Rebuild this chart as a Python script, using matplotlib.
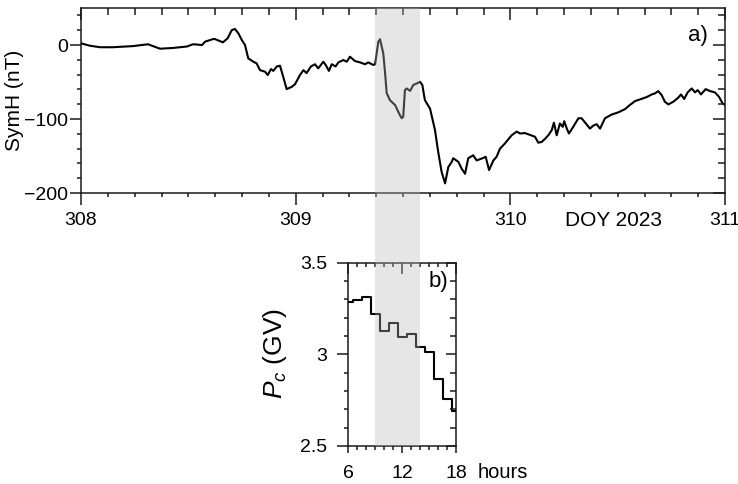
import matplotlib
matplotlib.use('Agg')
import matplotlib.pyplot as plt
from matplotlib.ticker import MultipleLocator, FixedLocator, FuncFormatter
from matplotlib.patches import Rectangle

plt.rcParams['font.family'] = ['Liberation Sans', 'DejaVu Sans']
plt.rcParams['mathtext.fontset'] = 'custom'
plt.rcParams['mathtext.it'] = 'Liberation Sans:italic'
plt.rcParams['mathtext.rm'] = 'Liberation Sans'

# ---- data: panel a) SymH vs DOY 2023 ----
doy = [308.003, 308.042, 308.089, 308.149, 308.242, 308.312, 308.368, 308.429, 308.494, 308.522,
       308.564, 308.578, 308.615, 308.624, 308.661, 308.683, 308.702, 308.717, 308.733, 308.749,
       308.764, 308.779, 308.803, 308.818, 308.834, 308.857, 308.870, 308.885, 308.896, 308.912,
       308.927, 308.942, 308.958, 308.982, 308.997, 309.020, 309.036, 309.051, 309.071, 309.090,
       309.105, 309.129, 309.140, 309.155, 309.168, 309.186, 309.199, 309.222, 309.238, 309.253,
       309.276, 309.300, 309.323, 309.338, 309.362, 309.370, 309.385, 309.393, 309.401, 309.408,
       309.416, 309.424, 309.439, 309.455, 309.463, 309.471, 309.486, 309.494, 309.501, 309.509,
       309.517, 309.533, 309.548, 309.564, 309.579, 309.590, 309.602, 309.626, 309.649, 309.664,
       309.680, 309.696, 309.711, 309.727, 309.734, 309.758, 309.773, 309.789, 309.804, 309.827,
       309.843, 309.874, 309.885, 309.901, 309.921, 309.936, 309.952, 309.975, 310.006, 310.030,
       310.045, 310.068, 310.115, 310.130, 310.146, 310.161, 310.177, 310.193, 310.203, 310.216,
       310.231, 310.244, 310.251, 310.263, 310.273, 310.293, 310.317, 310.332, 310.348, 310.371,
       310.386, 310.402, 310.418, 310.441, 310.472, 310.503, 310.534, 310.557, 310.581, 310.604,
       310.635, 310.659, 310.674, 310.689, 310.705, 310.720, 310.736, 310.759, 310.782, 310.795,
       310.810, 310.826, 310.845, 310.860, 310.873, 310.888, 310.910, 310.930, 310.953, 310.972,
       310.989, 311.000]
symh = [2, -1, -3, -3, -1.5, 1, -5, -4, -2, 1,
        0, 4.5, 8, 8, 3.6, 9, 20, 21.7, 15.8, 6.8,
        0, -18, -22.6, -24.8, -34, -36, -40.6, -32.5, -35, -29,
        -28, -43, -59.6, -56.5, -53, -40.6, -34, -38, -29, -26,
        -31.6, -22.6, -27, -35, -26, -29, -23.5, -20.3, -22.6, -15.8,
        -21.7, -23.5, -26, -23.5, -27, -26, 4.5, 7.7, -2, -11,
        -36, -65, -74.5, -79, -81, -86, -95, -99, -97, -61,
        -58.7, -62, -54, -52, -49.7, -54, -74.5, -86, -115, -144.5,
        -171.6, -187, -165, -158, -153, -158, -167, -174, -153, -149,
        -156, -152.6, -151, -169, -156, -151, -140, -133, -122, -117,
        -119.6, -119, -124, -132, -131, -127, -122, -115, -105, -122,
        -106, -110.6, -103, -113, -119.6, -110.6, -99, -99, -104.7, -113,
        -109, -107, -113, -99, -94, -91, -86.7, -81, -75.8, -73.5,
        -70.4, -66.8, -65.4, -62.3, -67.7, -76.7, -80.3, -76.7, -71.3, -66.8,
        -73, -64, -58.7, -64, -61, -66.8, -59.6, -62.3, -64, -70,
        -79, -81]

# ---- data: panel b) cutoff rigidity vs hours (DOY 309) ----
hours = [6, 7, 8, 9, 10, 11, 12, 13, 14, 15, 16, 17, 18]
pc = [3.284, 3.296, 3.311, 3.218, 3.127, 3.169, 3.093, 3.111, 3.038, 3.011, 2.865, 2.756, 2.693]

# shaded interval (hours of DOY 309)
shade_hours = [9, 14]

W, H = 738, 484
fig = plt.figure(figsize=(W / 100, H / 100), dpi=100)

ax1 = fig.add_axes([81 / W, 1 - 193 / H, 644 / W, 185 / H])
ax2 = fig.add_axes([348 / W, 1 - 446 / H, 108 / W, 183.3 / H])

ink = '#1a1a1a'

def int_fmt(v, p):
    return ('%d' % round(v)).replace('-', '\u2212')

# panel a
ax1.plot(doy, symh, color='black', lw=1.5, zorder=3)
ax1.set_xlim(308, 311)
ax1.set_ylim(-200, 50)
ax1.xaxis.set_major_locator(MultipleLocator(1))
ax1.xaxis.set_minor_locator(MultipleLocator(0.125))
ax1.yaxis.set_major_locator(FixedLocator([-200, -100, 0]))
ax1.yaxis.set_minor_locator(MultipleLocator(20))
ax1.xaxis.set_major_formatter(FuncFormatter(int_fmt))
ax1.yaxis.set_major_formatter(FuncFormatter(int_fmt))

# panel b
ax2.step(hours, pc, where='mid', color='black', lw=1.5, zorder=3)
ax2.set_xlim(6, 18)
ax2.set_ylim(2.5, 3.5)
ax2.xaxis.set_major_locator(MultipleLocator(6))
ax2.xaxis.set_minor_locator(MultipleLocator(1))
ax2.yaxis.set_major_locator(MultipleLocator(0.5))
ax2.yaxis.set_minor_locator(MultipleLocator(0.1))
ax2.xaxis.set_major_formatter(FuncFormatter(lambda v, p: '%g' % round(v, 2)))
ax2.yaxis.set_major_formatter(FuncFormatter(lambda v, p: '%g' % round(v, 2)))

for ax in (ax1, ax2):
    for s in ax.spines.values():
        s.set_linewidth(1.1)
        s.set_color(ink)

# outward ticks on left / bottom
ax1.tick_params(axis='y', which='major', direction='out', length=8, width=1.1, color=ink,
                labelsize=14, pad=1.5, top=False, right=False)
ax1.tick_params(axis='y', which='minor', direction='out', length=3, width=1.1, color=ink,
                right=False)
ax1.tick_params(axis='x', which='major', direction='out', length=8.5, width=1.1, color=ink,
                labelsize=14, pad=5, top=False)
ax1.tick_params(axis='x', which='minor', direction='out', length=3, width=1.1, color=ink,
                top=False)

ax2.tick_params(axis='y', which='major', direction='out', length=8, width=1.1, color=ink,
                labelsize=14, pad=7, right=False)
ax2.tick_params(axis='y', which='minor', direction='out', length=3, width=1.1, color=ink,
                right=False)
ax2.tick_params(axis='x', which='major', direction='out', length=5, width=1.1, color=ink,
                labelsize=14, pad=8.5, top=False)
ax2.tick_params(axis='x', which='minor', direction='out', length=3.2, width=1.1, color=ink,
                top=False)

# inward ticks on top / right via overlay axes
def inner_ticks(ax, maj_top, min_top, maj_right, min_right):
    ov = fig.add_axes(ax.get_position(), sharex=ax, sharey=ax, frameon=False)
    ov.tick_params(axis='both', which='both', direction='in', width=1.1, color=ink,
                   left=False, bottom=False, top=True, right=True,
                   labelleft=False, labelbottom=False, labeltop=False, labelright=False)
    ov.tick_params(axis='x', which='major', length=maj_top)
    ov.tick_params(axis='x', which='minor', length=min_top)
    ov.tick_params(axis='y', which='major', length=maj_right)
    ov.tick_params(axis='y', which='minor', length=min_right)
    return ov

inner_ticks(ax1, 8.5, 5, 9, 5)
inner_ticks(ax2, 8, 3, 7, 4.3)

# labels
ax1.text(-0.104, 0.503, 'SymH (nT)', transform=ax1.transAxes, rotation=90,
         ha='center', va='center', fontsize=15, color='black')
ax2.text(-0.676, 0.502, r'$P_c$ (GV)', transform=ax2.transAxes, rotation=90,
         ha='center', va='center', fontsize=19, color='black')
ax1.text(0.958, 0.854, 'a)', transform=ax1.transAxes, ha='center', va='center', fontsize=16)
ax2.text(0.833, 0.90, 'b)', transform=ax2.transAxes, ha='center', va='center', fontsize=16)
fig.text(565 / W, 1 - 221 / H, 'DOY 2023', ha='left', va='center', fontsize=15)
fig.text(478 / W, 1 - 472 / H, 'hours', ha='left', va='center', fontsize=14.5)

# shaded interval spanning both panels (drawn on top, semi-transparent)
inv = fig.transFigure.inverted()
x0 = ax2.transData.transform((shade_hours[0], 2.5))
x1 = ax2.transData.transform((shade_hours[1], 2.5))
ytop = ax1.transAxes.transform((0, 1))
f0 = inv.transform(x0)
f1 = inv.transform(x1)
ft = inv.transform(ytop)
rect = Rectangle((f0[0], f0[1]), f1[0] - f0[0], ft[1] - f0[1], transform=fig.transFigure,
                 facecolor='#b8b8b8', edgecolor='none', alpha=0.35, zorder=10)
fig.patches.append(rect)

fig.savefig('out.png', dpi=100)
